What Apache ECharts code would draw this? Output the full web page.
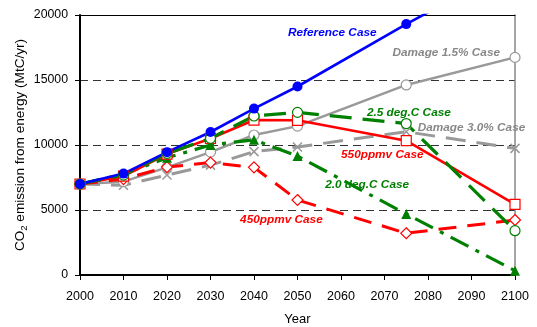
<!DOCTYPE html>
<html><head><meta charset="utf-8">
<script src="https://cdn.jsdelivr.net/npm/echarts@6/dist/echarts.min.js"></script>
<style>html,body{margin:0;padding:0;background:#fff}#c{width:537px;height:327px}</style>
</head><body><div id="c"></div><script>
// Energy CO2 emission pathways by scenario, 2000-2100 (MtC/yr)
const years = [2000, 2010, 2020, 2030, 2040, 2050, 2075, 2100];
const referenceCase = [7000, 7800, 9450, 11000, 12800, 14500, 19300, 23800];
const damage15 = [7000, 7180, 8280, 9450, 10770, 11450, 14620, 16740];
const damage30 = [7000, 6900, 7690, 8450, 9490, 9850, 11020, 9740];
const deg25 = [7000, 7690, 9360, 10510, 12230, 12510, 11650, 3410];
const deg20 = [7000, 7750, 9020, 10000, 10400, 9150, 4690, 330];
const ppm550 = [7000, 7600, 9300, 10500, 11920, 11900, 10330, 5440];
const ppm450 = [7000, 7380, 8300, 8650, 8280, 5770, 3210, 4230];

const xTicks = [2000, 2010, 2020, 2030, 2040, 2050, 2060, 2070, 2080, 2090, 2100];
const yTicks = [0, 5000, 10000, 15000, 20000];

// Scenario names written beside their curves, anchored in data units
const caseLabels = [
  { text: 'Reference Case', at: [2058, 18640], color: '#0000ff' },
  { text: 'Damage 1.5% Case', at: [2084.2, 17100], color: '#888888' },
  { text: '2.5 deg.C Case', at: [2075.6, 12480], color: '#008000' },
  { text: 'Damage 3.0% Case', at: [2090, 11360], color: '#888888' },
  { text: '550ppmv Case', at: [2069.5, 9230], color: '#ff0000' },
  { text: '2.0 deg.C Case', at: [2066, 6980], color: '#008000' },
  { text: '450ppmv Case', at: [2046.3, 4280], color: '#ff0000' }
];

const pair = arr => years.map((y, i) => [y, arr[i]]);
const FONT = '"Liberation Sans", Arial, sans-serif';
const crossPath = 'path://M0,0L10,10M10,0L0,10';

const chart = echarts.init(document.getElementById('c'), null, { renderer: 'canvas' });

function lineSeries(name, data, color, width, type, symbol, size, filled) {
  return {
    name, type: 'line', data: pair(data), xAxisIndex: 0, yAxisIndex: 0,
    symbol, symbolSize: size, showSymbol: true,
    lineStyle: { color, width, type },
    itemStyle: {
      color: filled ? color : '#ffffff',
      borderColor: color, borderWidth: filled ? 0 : 1.2
    },
    emphasis: { disabled: true },
    animation: false
  };
}

const series = [
  lineSeries('Damage 3.0%', damage30, '#999999', 3, [20, 11], crossPath, 9, false),
  lineSeries('Damage 1.5%', damage15, '#999999', 2.5, 'solid', 'circle', 10, false),
  lineSeries('450ppmv', ppm450, '#ff0000', 3, [18, 11], 'diamond', 11, false),
  lineSeries('2.0 deg.C', deg20, '#008000', 3.2, [20, 8, 4, 8], 'triangle', 10, true),
  lineSeries('550ppmv', ppm550, '#ff0000', 2.6, 'solid', 'rect', 10, false),
  lineSeries('2.5 deg.C', deg25, '#008000', 3.2, [22, 11], 'circle', 10, false),
  lineSeries('Reference', referenceCase, '#0000ff', 2.6, 'solid', 'circle', 10, true)
];
// the cross symbol is a stroked path: no fill
series[0].itemStyle = { color: 'rgba(0,0,0,0)', borderColor: '#999999', borderWidth: 1.5 };

chart.setOption({
  animation: false,
  backgroundColor: '#ffffff',
  textStyle: { fontFamily: FONT },
  grid: { left: 80, right: 22, top: 15, bottom: 52, containLabel: false, outerBoundsMode: 'none' },
  xAxis: [{
    type: 'value', min: 2000, max: 2100, interval: 10,
    name: 'Year', nameLocation: 'middle', nameGap: 38,
    nameTextStyle: { color: '#000', fontSize: 13, fontFamily: FONT },
    axisLine: { show: true, onZero: false, lineStyle: { color: '#000', width: 2 } },
    axisTick: { show: true, inside: false, length: 5, lineStyle: { color: '#000', width: 1 } },
    axisLabel: { color: '#000', fontSize: 12.5, margin: 15, fontFamily: FONT,
      formatter: v => xTicks.includes(v) ? String(v) : '' },
    splitLine: { show: false }
  }, {
    type: 'value', min: 2000, max: 2100, position: 'top',
    axisLine: { show: true, onZero: false, lineStyle: { color: '#000', width: 1 } },
    axisTick: { show: false }, axisLabel: { show: false }, splitLine: { show: false }
  }],
  yAxis: [{
    type: 'value', min: 0, max: 20000, interval: 5000,
    axisLine: { show: true, onZero: false, lineStyle: { color: '#000', width: 2 } },
    axisTick: { show: true, inside: false, length: 5, lineStyle: { color: '#000', width: 1 } },
    axisLabel: { color: '#000', fontSize: 12.3, margin: 12, fontFamily: FONT,
      formatter: v => yTicks.includes(v) ? String(v) : '' },
    splitLine: { show: true, lineStyle: { color: '#333', width: 1, type: [8, 5] } }
  }, {
    type: 'value', min: 0, max: 20000, position: 'right',
    axisLine: { show: true, onZero: false, lineStyle: { color: '#888', width: 1.5 } },
    axisTick: { show: false }, axisLabel: { show: false }, splitLine: { show: false }
  }],
  series
});

// scenario captions and the rotated y-axis title, placed through the axis scales
const mid = chart.convertToPixel({ xAxisIndex: 0, yAxisIndex: 0 }, [2000, 10000]);
const graphics = caseLabels.map(l => {
  const p = chart.convertToPixel({ xAxisIndex: 0, yAxisIndex: 0 }, l.at);
  return {
    type: 'text', x: p[0], y: p[1], z: 100,
    style: { text: l.text, fill: l.color, fontSize: 11.8, fontWeight: 'bold',
      fontStyle: 'italic', fontFamily: FONT, align: 'center', verticalAlign: 'middle' }
  };
});
graphics.push({
  type: 'text', x: 20, y: mid[1], rotation: Math.PI / 2, z: 100,
  style: {
    text: '{a|CO}{s|2}{a| emission from energy (MtC/yr)}',
    align: 'center', verticalAlign: 'middle',
    rich: {
      a: { fontSize: 13.6, fill: '#000', fontFamily: FONT, lineHeight: 18 },
      s: { fontSize: 9.5, fill: '#000', fontFamily: FONT, lineHeight: 18,
        verticalAlign: 'bottom', padding: [0, 0, 0, 0] }
    }
  }
});
chart.setOption({ graphic: graphics });
</script></body></html>
